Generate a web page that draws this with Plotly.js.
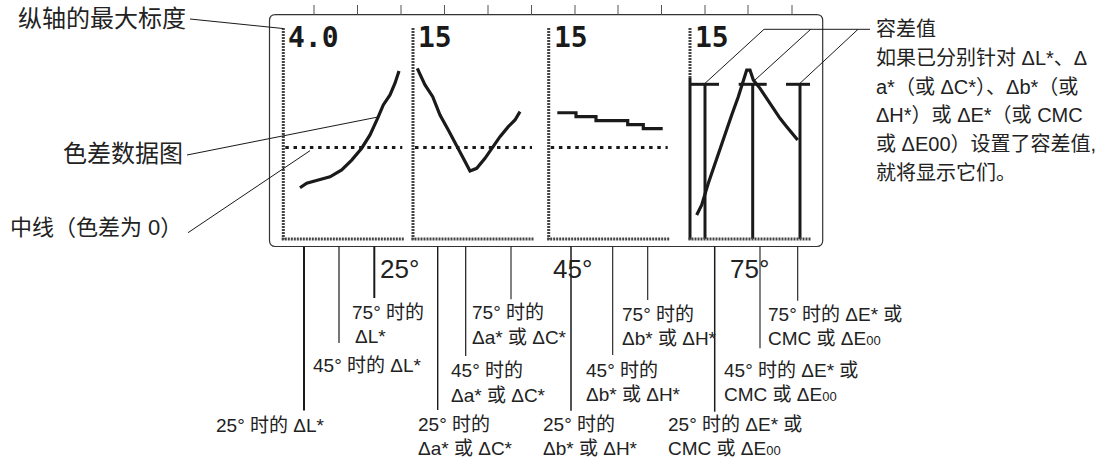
<!DOCTYPE html>
<html>
<head>
<meta charset="utf-8">
<script src="https://cdn.plot.ly/plotly-3.0.1.min.js"></script>
<style>html,body{margin:0;padding:0;background:#fff;}#chart{width:1113px;height:462px;}</style>
</head>
<body>
<div id="chart"></div>
<script>
// ---------------- data ----------------
const scaleLabels = ["4.0", "15", "15", "15"];
const scaleMax = [4, 15, 15, 15];

// panel 1: ΔL*  (x = dot column inside panel)
const dLx = [16.7, 23.4, 35, 46.7, 58.4, 68.4, 78.4, 86.7, 94.4, 100, 106.7, 111.7, 115.7];
const dLy = [-1.76, -1.56, -1.42, -1.28, -0.98, -0.55, -0.03, 0.55, 1.28, 1.86, 2.30, 2.81, 3.34];
// panel 2: Δa* or ΔC*
const dAx = [4.3, 12, 19.7, 27, 35.3, 43.7, 50.3, 57, 63.7, 72, 78.7, 87, 95.3, 102, 107];
const dAy = [12.98, 10.25, 8.33, 5.33, 2.87, 0.41, -1.77, -3.85, -3.41, -1.77, -0.13, 1.77, 3.41, 4.51, 5.87];
// panel 3: Δb* or ΔH*
const dBx = [8.6, 27.3, 47.3, 79, 94.6, 114];
const dBy = [5.70, 5.05, 4.39, 3.74, 3.08, 3.08];
// panel 4: ΔE* (or CMC / ΔE00)
const dEx = [6.7, 11.7, 18.3, 23.3, 28.3, 35, 41.7, 48.3, 52.3, 56.7, 60, 63.3, 70, 76.7, 83.3, 90, 96.7, 101.7, 107.7];
const dEy = [1.97, 2.79, 4.57, 5.80, 6.89, 8.52, 10.16, 11.66, 12.62, 13.85, 13.85, 13.03, 12.35, 11.53, 10.71, 9.89, 9.20, 8.66, 8.11];
// tolerance bars (25°, 45°, 75°)
const tolX = [15, 62.7, 110];
const tolY = [12.68, 12.68, 12.68];

// ---------------- layout helpers ----------------
const W = 1113, H = 462;
const X = p => p / W;
const Y = p => 1 - p / H;
const ink = "#1a1a1a";
const panelLeft = [283.3, 413, 548.7, 690];
const panelWidth = 120;
const plotTop = 56, plotBottom = 239;

const traces = [];
const lineStyle = {color: ink, width: 3.2};
traces.push({x: dLx, y: dLy, xaxis: "x", yaxis: "y", mode: "lines", line: lineStyle, hoverinfo: "skip"});
traces.push({x: dAx, y: dAy, xaxis: "x2", yaxis: "y2", mode: "lines", line: lineStyle, hoverinfo: "skip"});
traces.push({x: dBx, y: dBy, xaxis: "x3", yaxis: "y3", mode: "lines", line: Object.assign({shape: "hv"}, lineStyle), hoverinfo: "skip"});
traces.push({x: dEx, y: dEy, xaxis: "x4", yaxis: "y4", mode: "lines", line: lineStyle, hoverinfo: "skip"});
// tolerance bars built from tolX / tolY
const bx = [], by = [];
tolX.forEach((v, i) => { bx.push(v, v, null); by.push(0, tolY[i], null); });
traces.push({x: bx, y: by, xaxis: "x4", yaxis: "y4", mode: "lines", line: {color: ink, width: 3}, hoverinfo: "skip"});
traces.push({x: tolX, y: tolY, xaxis: "x4", yaxis: "y4", mode: "markers",
  marker: {symbol: "line-ew", size: 20, line: {color: ink, width: 3}}, hoverinfo: "skip"});

const layout = {
  width: W, height: H, margin: {l: 0, r: 0, t: 0, b: 0},
  paper_bgcolor: "#fff", plot_bgcolor: "rgba(0,0,0,0)",
  showlegend: false, hovermode: false,
  shapes: [], annotations: []
};
for (let i = 0; i < 4; i++) {
  const s = i === 0 ? "" : String(i + 1);
  layout["xaxis" + s] = {domain: [X(panelLeft[i]), X(panelLeft[i] + panelWidth)], range: [0, panelWidth],
    visible: false, fixedrange: true, anchor: "y" + s};
  layout["yaxis" + s] = {domain: [Y(plotBottom), Y(plotTop)],
    range: i === 3 ? [0, scaleMax[i]] : [-scaleMax[i], scaleMax[i]],
    visible: false, fixedrange: true, anchor: "x" + s};
}

function seg(x0, y0, x1, y1, width, color, dash) {
  layout.shapes.push({type: "line", xref: "paper", yref: "paper", x0: X(x0), y0: Y(y0), x1: X(x1), y1: Y(y1),
    line: {color: color || ink, width: width || 1, dash: dash || "solid"}});
}

// screen outline (rounded rectangle)
(function () {
  const x0 = 269.5, x1 = 822.7, y0 = 14.7, y1 = 246.5, r = 6;
  const p = (x, y) => X(x) + "," + Y(y);
  const d = "M" + p(x0 + r, y0) + " L" + p(x1 - r, y0) + " Q" + p(x1, y0) + " " + p(x1, y0 + r) +
    " L" + p(x1, y1 - r) + " Q" + p(x1, y1) + " " + p(x1 - r, y1) +
    " L" + p(x0 + r, y1) + " Q" + p(x0, y1) + " " + p(x0, y1 - r) +
    " L" + p(x0, y0 + r) + " Q" + p(x0, y0) + " " + p(x0 + r, y0) + " Z";
  layout.shapes.push({type: "path", xref: "paper", yref: "paper", path: d, line: {color: "#333", width: 1.2}});
})();
// top tick marks
[314, 357.5, 401, 444.5, 488, 531.5, 575, 618, 661.5, 705, 748, 792].forEach(x => seg(x, 5, x, 14.7, 1, "#555"));

// panel axes (dotted LCD style)
for (let i = 0; i < 4; i++) {
  const ax = panelLeft[i];
  if (i === 3) {
    seg(ax, 28, ax, 78, 3, "#444", "2px,1px");
    seg(ax, 78, ax, 239.5, 3, ink);
  } else {
    seg(ax, 28, ax, 239.5, 3, "#444", "2px,1px");
  }
  seg(ax - 1.5, 239, ax + 121, 239, 3, "#444", "2px,1px");
  // zero / centre line
  if (i < 3) {
    const s = i === 0 ? "" : String(i + 1);
    layout.shapes.push({type: "line", xref: "x" + s, yref: "y" + s, x0: 2, x1: 119, y0: 0, y1: 0,
      line: {color: ink, width: 3, dash: "3.5px,4.7px"}});
  }
  // scale label
  layout.annotations.push({xref: "paper", yref: "paper", x: X(ax + 3), y: Y(37.5), xanchor: "left", yanchor: "middle",
    text: scaleLabels[i], showarrow: false,
    font: {family: "DejaVu Sans Mono", size: 28, color: ink, weight: "bold"}});
}

// leader lines
seg(190, 19, 283, 28.5);
seg(187, 155, 378, 117);
seg(188, 232.7, 310, 150.7);
seg(764, 29.3, 870, 29.3);
seg(764, 29.3, 705, 83.3);
seg(810.7, 29.3, 755, 80);
seg(858, 29.3, 800, 83.3);
[[304, 410.5, 2], [339, 343, 1.2], [374.3, 298, 2], [437.7, 410, 1.4], [465.7, 356, 1.2], [511, 299.3, 1.1],
 [571, 410.7, 1.5], [612.7, 355, 1.1], [647.7, 300, 1.1], [714.7, 411.7, 1.5], [760, 348.3, 1.1], [797.7, 300.7, 1.1]]
  .forEach(v => seg(v[0], 246.5, v[0], v[1], v[2]));

// text
const fam = "Liberation Sans, Noto Sans CJK SC, sans-serif";
function txt(t, x, y, size, anchor) {
  layout.annotations.push({xref: "paper", yref: "paper", x: X(x), y: Y(y), xanchor: anchor || "left", yanchor: "middle",
    text: t, showarrow: false, borderpad: 0, font: {family: fam, size: size, color: "#222"}});
}
txt("纵轴的最大标度", 187, 19, 24, "right");
txt("色差数据图", 184, 153, 24, "right");
txt("中线（色差为 0）", 183, 228, 22, "right");

const rightLines = ["容差值", "如果已分别针对 ΔL*、Δ", "a*（或 ΔC*）、Δb*（或", "ΔH*）或 ΔE*（或 CMC", "或 ΔE00）设置了容差值,", "就将显示它们。"];
rightLines.forEach((t, i) => txt(t, 875, 29.3 + i * 28.7, 20));

txt("25°", 379, 269, 26);
txt("45°", 552, 269, 26);
txt("75°", 729, 269, 26);

const E00 = "ΔE<span style=\"font-size:13px\">00</span>";
const small = [
  ["75° 时的", 351, 312], ["ΔL*", 354, 336], ["45° 时的 ΔL*", 312, 365], ["25° 时的 ΔL*", 215, 425],
  ["75° 时的", 470.5, 312], ["Δa* 或 ΔC*", 470.5, 337], ["45° 时的", 449.5, 370], ["Δa* 或 ΔC*", 449.5, 395],
  ["25° 时的", 417, 424.3], ["Δa* 或 ΔC*", 417, 448.3],
  ["75° 时的", 620.5, 314], ["Δb* 或 ΔH*", 620.5, 338], ["45° 时的", 585, 370], ["Δb* 或 ΔH*", 585, 394],
  ["25° 时的", 542, 424.3], ["Δb* 或 ΔH*", 542, 448.3],
  ["75° 时的 ΔE* 或", 766.5, 314], ["CMC 或 " + E00, 766.5, 338],
  ["45° 时的 ΔE* 或", 723, 370], ["CMC 或 " + E00, 723, 394],
  ["25° 时的 ΔE* 或", 667, 424.3], ["CMC 或 " + E00, 667, 448.3]
];
small.forEach(s => txt(s[0], s[1], s[2], 19));

Plotly.newPlot("chart", traces, layout, {staticPlot: true, displayModeBar: false});
</script>
</body>
</html>
